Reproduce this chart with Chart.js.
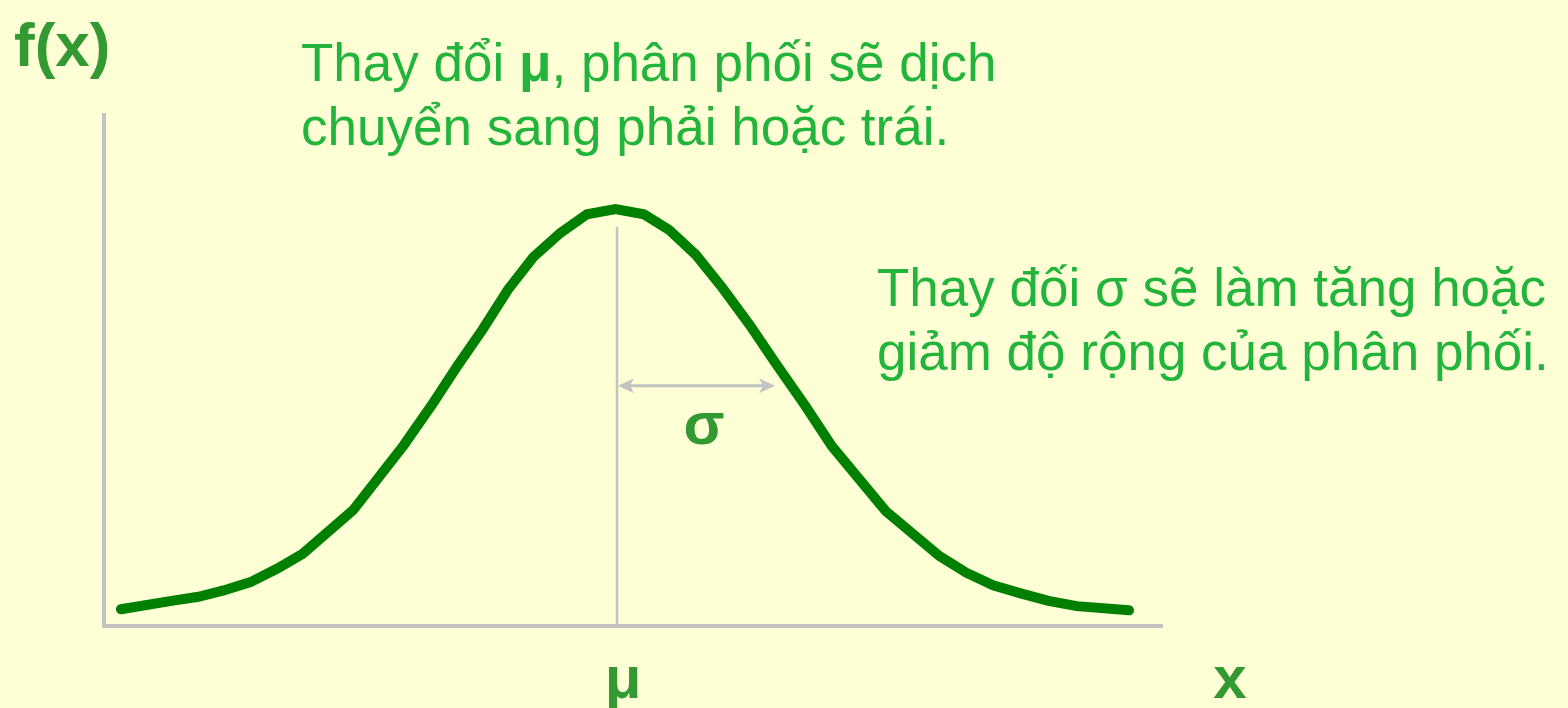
<!DOCTYPE html>
<html>
<head>
<meta charset="utf-8">
<script src="https://cdn.jsdelivr.net/npm/chart.js@4"></script>
<style>
    html, body { margin: 0; padding: 0; background: #ffffd6; }
    #wrap { position: relative; width: 1568px; height: 708px; overflow: hidden; }
    canvas { position: absolute; left: 0; top: 0; }
    .txt { position: absolute; font-family: "Liberation Sans", Arial, sans-serif; white-space: nowrap; }
    .note { color: #22b43c; font-size: 53px; line-height: 64px; }
    .lbl { color: #339933; font-weight: bold; font-size: 60px; line-height: 60px; }
</style>
</head>
<body>
<div id="wrap">
    <canvas id="normalChart" width="1568" height="708"></canvas>
    <div class="txt lbl" style="left:14px; top:14px; font-size:62px; line-height:62px;">f(x)</div>
    <div class="txt note" style="left:301px; top:31px;">Thay đổi <b>μ</b>, phân phối sẽ dịch<br>chuyển sang phải hoặc trái.</div>
    <div class="txt note" style="left:877px; top:256px;">Thay đối σ sẽ làm tăng hoặc<br>giảm độ rộng của phân phối.</div>
    <div class="txt lbl" id="muLabel" style="top:648px; width:80px; text-align:center;">μ</div>
    <div class="txt lbl" id="sigmaLabel" style="top:394px; width:80px; text-align:center;">σ</div>
    <div class="txt lbl" style="left:1200px; top:648px; width:60px; text-align:center;">x</div>
</div>
<script>
// curve points, x in units of sigma around the mean
const xs = [-3.14, -2.82, -2.65, -2.49, -2.32, -2.15, -1.99, -1.67, -1.35, -1.17, -1.01, -0.85, -0.69, -0.53, -0.36, -0.19, -0.01,
            0.17, 0.33, 0.50, 0.67, 0.84, 1.01, 1.19, 1.36, 1.70, 2.04, 2.21, 2.38, 2.56, 2.73, 2.91, 3.24];
const ys = [0.016, 0.024, 0.028, 0.034, 0.042, 0.055, 0.069, 0.111, 0.173, 0.212, 0.249, 0.284, 0.322, 0.353, 0.376, 0.394, 0.399,
            0.394, 0.379, 0.355, 0.323, 0.288, 0.250, 0.211, 0.172, 0.110, 0.067, 0.051, 0.039, 0.031, 0.024, 0.019, 0.015];

const mu = 0;
const sigma = 1;
const muLineTop = 0.382;
const arrowY = 0.23;

const gray = '#c3c3c3';

// mean line + sigma arrow, labels follow the scales
const markers = {
    id: 'markers',
    afterDraw(chart) {
        const { ctx, scales: { x, y } } = chart;
        const x0 = x.getPixelForValue(mu);
        const x1 = x.getPixelForValue(mu + sigma);
        const ya = y.getPixelForValue(arrowY);
        ctx.save();
        ctx.strokeStyle = gray;
        ctx.fillStyle = gray;
        ctx.lineWidth = 2.5;
        ctx.beginPath();
        ctx.moveTo(x0, y.getPixelForValue(muLineTop));
        ctx.lineTo(x0, y.getPixelForValue(0));
        ctx.stroke();

        ctx.lineWidth = 3;
        ctx.beginPath();
        ctx.moveTo(x0 + 4, ya);
        ctx.lineTo(x1 - 4, ya);
        ctx.stroke();
        const head = (tip, dir) => {
            ctx.beginPath();
            ctx.moveTo(tip, ya);
            ctx.lineTo(tip + dir * 16, ya - 7.5);
            ctx.lineTo(tip + dir * 12, ya);
            ctx.lineTo(tip + dir * 16, ya + 7.5);
            ctx.closePath();
            ctx.fill();
        };
        head(x0 + 1, 1);
        head(x1, -1);
        ctx.restore();

        document.getElementById('muLabel').style.left = (x0 + 6 - 40) + 'px';
        document.getElementById('sigmaLabel').style.left = ((x0 + x1) / 2 + 8 - 40) + 'px';
    }
};

const canvas = document.getElementById('normalChart');
new Chart(canvas, {
    type: 'line',
    data: {
        datasets: [{
            data: xs.map((v, i) => ({ x: v, y: ys[i] })),
            borderColor: '#008000',
            borderWidth: 10,
            borderCapStyle: 'round',
            borderJoinStyle: 'miter',
            pointRadius: 0,
            tension: 0,
            fill: false
        }]
    },
    options: {
        responsive: false,
        animation: false,
        devicePixelRatio: 1,
        layout: { padding: { left: 104, right: 406, top: 115, bottom: 82 } },
        plugins: { legend: { display: false }, tooltip: { enabled: false } },
        scales: {
            x: {
                type: 'linear',
                min: -3.247,
                max: 3.449,
                grid: { display: false, drawTicks: false },
                ticks: { display: false },
                border: { color: gray, width: 4 }
            },
            y: {
                min: 0,
                max: 0.489,
                grid: { display: false, drawTicks: false },
                ticks: { display: false },
                border: { color: gray, width: 4 }
            }
        }
    },
    plugins: [markers]
});
</script>
</body>
</html>
